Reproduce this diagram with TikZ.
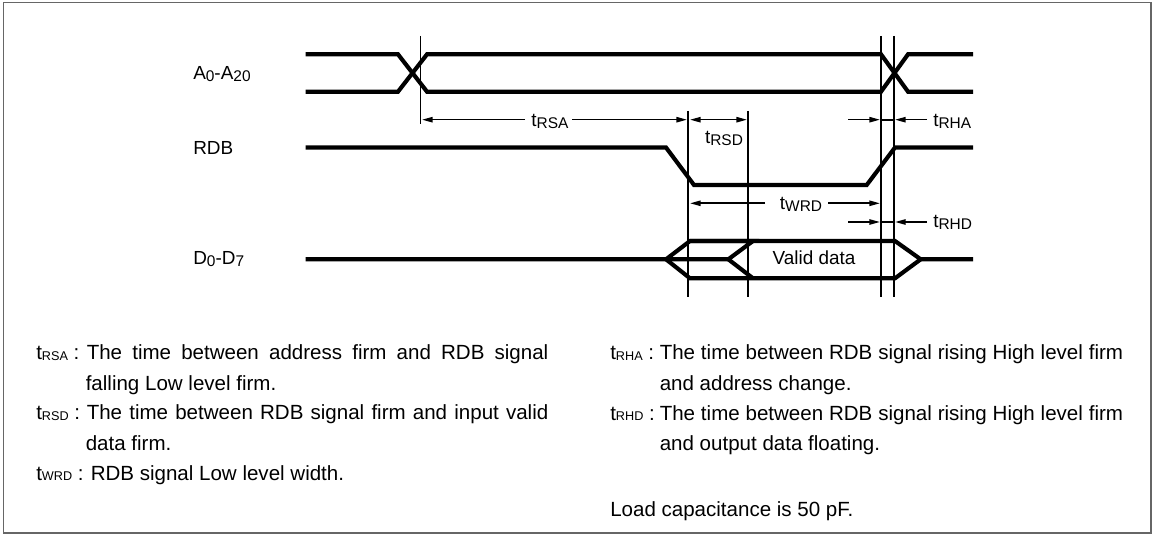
\documentclass[tikz,border=0pt]{standalone}
\usepackage{fontspec}
\setmainfont{Liberation Sans}
\usetikzlibrary{arrows.meta}
\newcommand{\tsub}[2]{#1\raisebox{-1.2pt}{\fontsize{11.6}{11.6}\selectfont #2}}
\newcommand{\lsub}[1]{t\raisebox{-0.6pt}{\fontsize{9.5}{9.5}\selectfont #1}}
\tikzset{
  x=0.75pt,y=-0.75pt,
  frame/.style={draw=black!60,line width=1.1pt},
  wave/.style={line width=3.1pt,line join=miter,line cap=butt},
  guide/.style={line width=1.25pt},
  dim/.style={line width=1.2pt,-{Triangle[length=8pt,width=4pt]}},
  dimb/.style={line width=1.2pt,{Triangle[length=8pt,width=4pt]}-{Triangle[length=8pt,width=4pt]}},
  lab/.style={inner sep=0pt,font=\fontsize{14.2}{14.2}\selectfont},
  body/.style={anchor=base west,inner sep=0pt,font=\fontsize{15.4}{15.4}\selectfont},
}
\begin{document}
\begin{tikzpicture}
\useasboundingbox (0,0) rectangle (1155,534);
\fill[white] (0,0) rectangle (1155,534);
\draw[frame] (3.5,2.5) rectangle (1151,533);
% coordinates
\coordinate (v1t) at (420.6,36); \coordinate (v1b) at (420.6,124);
\coordinate (v2t) at (688.3,111); \coordinate (v2b) at (688.3,296.7);
\coordinate (v3t) at (748.3,111); \coordinate (v3b) at (748.3,296.7);
\coordinate (v4t) at (880.7,36); \coordinate (v4b) at (880.7,296.7);
\coordinate (v5t) at (894.3,36); \coordinate (v5b) at (894.3,296.7);
% guides
\draw[guide] (v1t)--(v1b); \draw[guide] (v2t)--(v2b); \draw[guide] (v3t)--(v3b);
\draw[guide] (v4t)--(v4b); \draw[guide] (v5t)--(v5b);
% address
\draw[wave] (305.7,54.3)--(398,54.3)--(427,91.7)--(881,91.7)--(908,54.3)--(973,54.3);
\draw[wave] (305.7,91.7)--(398,91.7)--(427,54.3)--(881,54.3)--(908,91.7)--(973,91.7);
% RDB
\draw[wave] (305.7,147.5)--(666,147.5)--(694,185)--(866.7,185)--(895,147.5)--(973,147.5);
% data
\draw[wave] (305.7,259.3)--(728.3,259.3)--(753,241)--(690,241);
\draw[wave] (666,259.3)--(690,241)--(895,241)--(920.7,259.3)--(973,259.3);
\draw[wave] (666,259.3)--(690,278.3)--(895,278.3)--(920.7,259.3);
\draw[wave] (728.3,259.3)--(753,278.3);
% labels
\node[lab,anchor=base west] (la) at (193,79.5) {\tsub{A}{0}-\tsub{A}{20}};
\node[lab,anchor=base west] (lr) at (193,154.5) {RDB};
\node[lab,anchor=base west] (ld) at (193,265) {\tsub{D}{0}-\tsub{D}{7}};
\node[lab,anchor=base] (valid) at (814,265) {Valid data};
% dims
\node[lab,anchor=base] (trsa) at (550,126.5) {\tsub{t}{RSA}};
\coordinate (a1) at (422,119.7); \coordinate (a2) at (687,119.7);
\coordinate (a3) at (525,119.7); \coordinate (a4) at (572,119.7);
\draw[dim] (a3)--(a1);
\draw[dim] (a4)--(a2);
\node[lab,anchor=base] (trsd) at (724,143.5) {\tsub{t}{RSD}};
\coordinate (d1) at (690,119.7); \coordinate (d2) at (747,119.7);
\draw[dimb] (d1)--(d2);
\coordinate (rha1) at (848,119.7); \coordinate (rha2) at (927,119.7);
\coordinate (rha3) at (880,119.7); \coordinate (rha4) at (895,119.7);
\draw[dim] (rha1)--(rha3);
\draw[dim] (rha2)--(rha4);
\draw[guide] (rha3)--(rha4);
\node[lab,anchor=base west] (trha) at (933,126.5) {\tsub{t}{RHA}};
\node[lab,anchor=base] (twrd) at (801,209.5) {\tsub{t}{WRD}};
\coordinate (w1) at (765,203.3); \coordinate (w2) at (690,203.3);
\coordinate (w3) at (828,203.3); \coordinate (w4) at (880,203.3);
\draw[dim] (w1)--(w2);
\draw[dim] (w3)--(w4);
\coordinate (rhd1) at (848,222); \coordinate (rhd2) at (927,222);
\coordinate (rhd3) at (880,222); \coordinate (rhd4) at (895,222);
\draw[dim] (rhd1)--(rhd3);
\draw[dim] (rhd2)--(rhd4);
\draw[guide] (rhd3)--(rhd4);
\node[lab,anchor=base west] (trhd) at (933,228) {\tsub{t}{RHD}};
% notes left
\node[body] (n1a) at (36,359.3) {\lsub{RSA} :};
\node[body] (n1) at (86.5,359.3) {\makebox[346.2pt][s]{The time between address firm and RDB signal}};
\node[body] (n2) at (85.5,390) {falling Low level firm.};
\node[body] (n3a) at (36,419.5) {\lsub{RSD} :};
\node[body] (n3) at (86.5,419.5) {\makebox[346.2pt][s]{The time between RDB signal firm and input valid}};
\node[body] (n4) at (85.5,450) {data firm.};
\node[body] (n5a) at (36,480) {\lsub{WRD} :};
\node[body] (n5) at (90.5,480) {RDB signal Low level width.};
% notes right
\node[body] (r1a) at (610,359.3) {\lsub{RHA} :};
\node[body] (r1) at (659.5,359.3) {\makebox[347.5pt][s]{The time between RDB signal rising High level firm}};
\node[body] (r2) at (659.5,390) {and address change.};
\node[body] (r3a) at (610,420) {\lsub{RHD} :};
\node[body] (r3) at (659.5,420) {\makebox[347.5pt][s]{The time between RDB signal rising High level firm}};
\node[body] (r4) at (659.5,450) {and output data floating.};
\node[body] (r5) at (610,516.7) {Load capacitance is 50 pF.};
\end{tikzpicture}
\end{document}
